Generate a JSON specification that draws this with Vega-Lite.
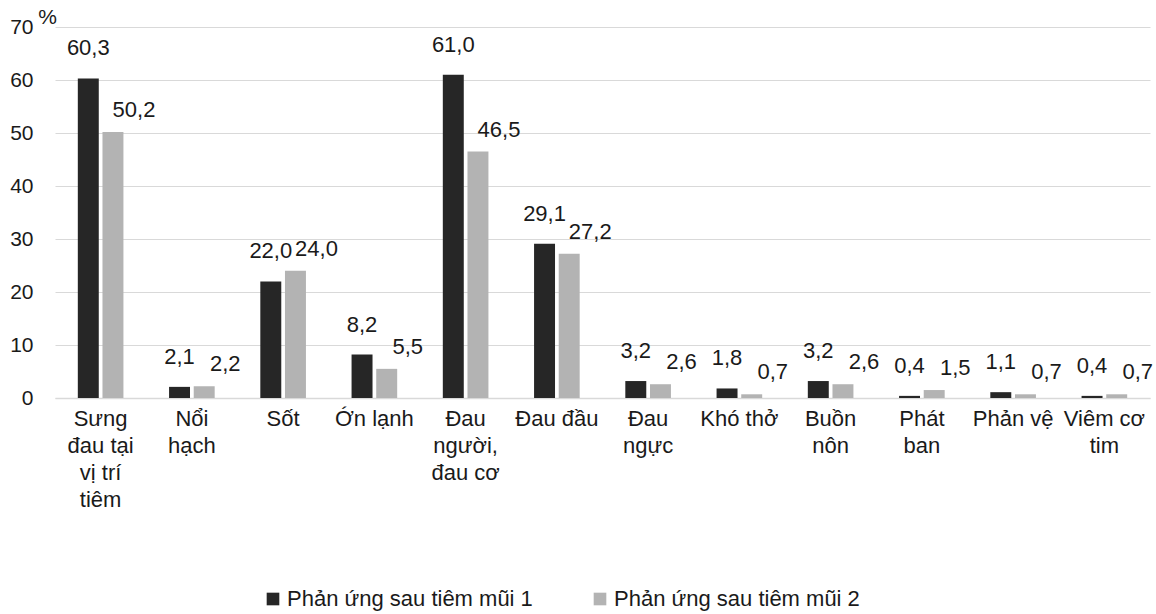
{
  "$schema": "https://vega.github.io/schema/vega-lite/v6.json",
  "width": 1095,
  "height": 371,
  "autosize": "none",
  "padding": {"left": 55, "top": 27, "right": 6, "bottom": 216},
  "config": {
    "locale": {"number": {"decimal": ",", "thousands": ".", "grouping": [3], "currency": ["", ""]}},
    "font": "Liberation Sans",
    "view": {"stroke": null},
    "axis": {"labelFont": "Liberation Sans", "titleFont": "Liberation Sans"},
    "legend": {"labelFont": "Liberation Sans"}
  },
  "data": {
    "values": [
      {"category": "Sưng đau tại vị trí tiêm", "series": "Phản ứng sau tiêm mũi 1", "value": 60.3},
      {"category": "Sưng đau tại vị trí tiêm", "series": "Phản ứng sau tiêm mũi 2", "value": 50.2},
      {"category": "Nổi hạch", "series": "Phản ứng sau tiêm mũi 1", "value": 2.1},
      {"category": "Nổi hạch", "series": "Phản ứng sau tiêm mũi 2", "value": 2.2},
      {"category": "Sốt", "series": "Phản ứng sau tiêm mũi 1", "value": 22.0},
      {"category": "Sốt", "series": "Phản ứng sau tiêm mũi 2", "value": 24.0},
      {"category": "Ớn lạnh", "series": "Phản ứng sau tiêm mũi 1", "value": 8.2},
      {"category": "Ớn lạnh", "series": "Phản ứng sau tiêm mũi 2", "value": 5.5},
      {"category": "Đau người, đau cơ", "series": "Phản ứng sau tiêm mũi 1", "value": 61.0},
      {"category": "Đau người, đau cơ", "series": "Phản ứng sau tiêm mũi 2", "value": 46.5},
      {"category": "Đau đầu", "series": "Phản ứng sau tiêm mũi 1", "value": 29.1},
      {"category": "Đau đầu", "series": "Phản ứng sau tiêm mũi 2", "value": 27.2},
      {"category": "Đau ngực", "series": "Phản ứng sau tiêm mũi 1", "value": 3.2},
      {"category": "Đau ngực", "series": "Phản ứng sau tiêm mũi 2", "value": 2.6},
      {"category": "Khó thở", "series": "Phản ứng sau tiêm mũi 1", "value": 1.8},
      {"category": "Khó thở", "series": "Phản ứng sau tiêm mũi 2", "value": 0.7},
      {"category": "Buồn nôn", "series": "Phản ứng sau tiêm mũi 1", "value": 3.2},
      {"category": "Buồn nôn", "series": "Phản ứng sau tiêm mũi 2", "value": 2.6},
      {"category": "Phát ban", "series": "Phản ứng sau tiêm mũi 1", "value": 0.4},
      {"category": "Phát ban", "series": "Phản ứng sau tiêm mũi 2", "value": 1.5},
      {"category": "Phản vệ", "series": "Phản ứng sau tiêm mũi 1", "value": 1.1},
      {"category": "Phản vệ", "series": "Phản ứng sau tiêm mũi 2", "value": 0.7},
      {"category": "Viêm cơ tim", "series": "Phản ứng sau tiêm mũi 1", "value": 0.4},
      {"category": "Viêm cơ tim", "series": "Phản ứng sau tiêm mũi 2", "value": 0.7}
    ]
  },
  "encoding": {
    "x": {
      "field": "category",
      "type": "nominal",
      "sort": null,
      "scale": {"paddingInner": 0.5, "paddingOuter": 0.25},
      "axis": {
        "title": null,
        "labelAngle": 0,
        "labelFontSize": 22,
        "labelColor": "#1a1a1a",
        "labelPadding": 10,
        "labelBaseline": "top",
        "labelLineHeight": 27,
        "labelLimit": 200,
        "ticks": false,
        "domainColor": "#d9d9d9",
        "domainWidth": 1.5,
        "labelExpr": "datum.value == 'Sưng đau tại vị trí tiêm' ? ['Sưng', 'đau tại', 'vị trí', 'tiêm'] : datum.value == 'Nổi hạch' ? ['Nổi', 'hạch'] : datum.value == 'Đau người, đau cơ' ? ['Đau', 'người,', 'đau cơ'] : datum.value == 'Đau ngực' ? ['Đau', 'ngực'] : datum.value == 'Buồn nôn' ? ['Buồn', 'nôn'] : datum.value == 'Phát ban' ? ['Phát', 'ban'] : datum.value == 'Viêm cơ tim' ? ['Viêm cơ', 'tim'] : datum.value"
      }
    },
    "xOffset": {"field": "series", "type": "nominal", "scale": {"paddingInner": 0.15}},
    "y": {
      "field": "value",
      "type": "quantitative",
      "scale": {"domain": [0, 70], "nice": false},
      "axis": {
        "title": "%",
        "titleAngle": 0,
        "titleFontSize": 21,
        "titleFontWeight": "normal",
        "titleColor": "#1a1a1a",
        "titleX": -8,
        "titleY": -10,
        "titleAlign": "center",
        "titleBaseline": "middle",
        "values": [0, 10, 20, 30, 40, 50, 60, 70],
        "labelFontSize": 21,
        "labelColor": "#1a1a1a",
        "labelPadding": 22,
        "ticks": false,
        "domain": false,
        "gridColor": "#d9d9d9",
        "gridWidth": 1.2,
        "format": "d"
      }
    }
  },
  "layer": [
    {
      "mark": {"type": "bar"},
      "encoding": {
        "color": {
          "field": "series",
          "type": "nominal",
          "scale": {"range": ["#262626", "#b3b3b3"]},
          "legend": {
            "title": null,
            "orient": "none",
            "legendX": 207,
            "legendY": 561,
            "direction": "horizontal",
            "symbolType": "square",
            "symbolSize": 160,
            "symbolStrokeWidth": 0,
            "labelFontSize": 22,
            "labelColor": "#1a1a1a",
            "labelOffset": 3,
            "columnPadding": 56,
            "labelLimit": 400
          }
        }
      }
    },
    {
      "transform": [{"filter": "datum.series == 'Phản ứng sau tiêm mũi 1'"}],
      "mark": {"type": "text", "baseline": "middle", "dy": -30, "fontSize": 22, "color": "#1a1a1a"},
      "encoding": {
        "text": {"field": "value", "type": "quantitative", "format": ".1f"}
      }
    },
    {
      "transform": [{"filter": "datum.series == 'Phản ứng sau tiêm mũi 2'"}],
      "mark": {"type": "text", "baseline": "middle", "dx": 21, "dy": -22, "fontSize": 22, "color": "#1a1a1a"},
      "encoding": {
        "text": {"field": "value", "type": "quantitative", "format": ".1f"}
      }
    }
  ]
}
